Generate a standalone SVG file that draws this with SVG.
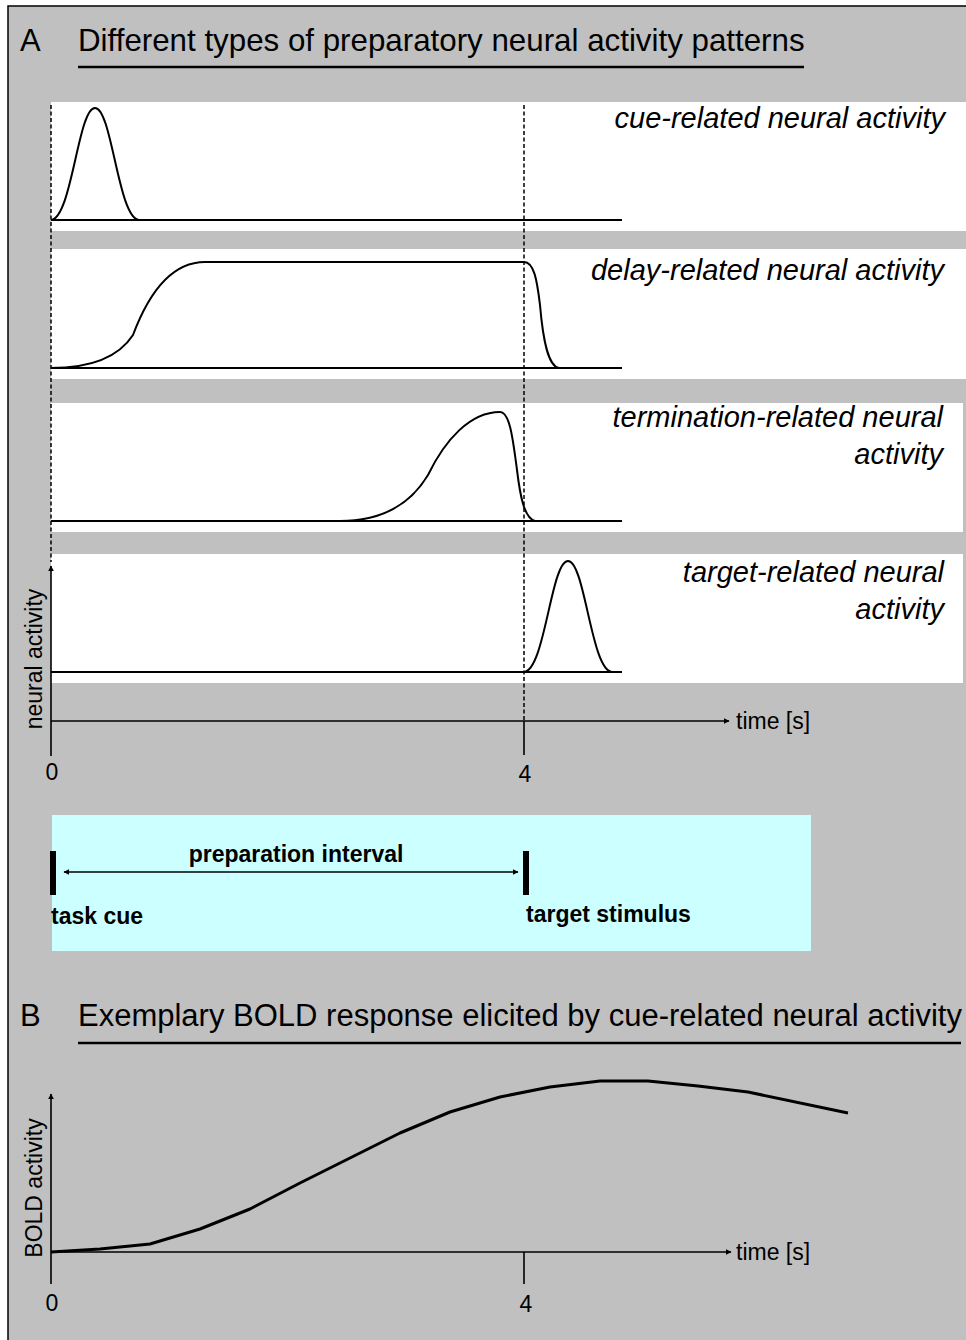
<svg xmlns="http://www.w3.org/2000/svg" width="966" height="1340" viewBox="0 0 966 1340">
<style>
text{font-family:"Liberation Sans",Arial,sans-serif;fill:#000}
.title{font-size:31px}
.lab{font-size:29px;font-style:italic;text-anchor:end}
.ax{font-size:23px}
.bold{font-size:23px;font-weight:bold}
.panel{fill:#fff}
.base{stroke:#000;stroke-width:2;fill:none}
.curve{stroke:#000;stroke-width:2;fill:none}
.axis{stroke:#000;stroke-width:1.6;fill:none}
.dash{stroke:#000;stroke-width:1.5;stroke-dasharray:4,2.5;fill:none}
</style>
<defs>
<marker id="ah" viewBox="0 0 10 10" refX="9" refY="5" markerWidth="6" markerHeight="6" orient="auto-start-reverse" markerUnits="userSpaceOnUse"><path d="M0,0L10,5L0,10z" fill="#000"/></marker>
</defs>
<rect x="8" y="6" width="980" height="1360" fill="#c0c0c0" stroke="#000" stroke-width="1.5"/>

<g id="titleA">
<text class="title" x="20" y="51">A</text>
<text class="title" x="78" y="51" style="font-size:31.3px">Different types of preparatory neural activity patterns</text>
<line x1="78" y1="67" x2="804" y2="67" stroke="#000" stroke-width="2.5"/>
</g>

<g id="panel-cue">
<rect class="panel" x="51" y="102" width="915" height="129"/>
<line class="base" x1="51" y1="220" x2="622" y2="220"/>
<path class="curve" d="M51,220 C72,218 78,108 95,108 C112,108 118,218 139,220"/>
<text class="lab" x="945" y="128">cue-related neural activity</text>
</g>

<g id="panel-delay">
<rect class="panel" x="51" y="249" width="915" height="130"/>
<line class="base" x1="51" y1="368" x2="622" y2="368"/>
<path class="curve" d="M51,368 C95,368 120,355 133,335 C148,295 170,262 205,262 L524,262 C534,262 537,280 540,305 C543,340 548,366 559,368"/>
<text class="lab" x="944" y="280">delay-related neural activity</text>
</g>

<g id="panel-termination">
<rect class="panel" x="51" y="403" width="912" height="129"/>
<line class="base" x1="51" y1="521" x2="622" y2="521"/>
<path class="curve" d="M340,521 C380,521 410,505 428,475 C445,440 470,412 500,412 C510,412 513,440 517,470 C520,495 524,518 535,521"/>
<text class="lab" x="943" y="427">termination-related neural</text>
<text class="lab" x="943" y="464">activity</text>
</g>

<g id="panel-target">
<rect class="panel" x="51" y="554" width="912" height="129"/>
<line class="base" x1="51" y1="672" x2="622" y2="672"/>
<path class="curve" d="M524,672 C545,670 551,561 568,561 C585,561 591,670 612,672"/>
<text class="lab" x="944" y="582">target-related neural</text>
<text class="lab" x="944" y="619">activity</text>
</g>

<g id="axes-A">
<line class="dash" x1="51" y1="105" x2="51" y2="562"/>
<line class="dash" x1="524" y1="105" x2="524" y2="721"/>
<line class="axis" x1="51" y1="756" x2="51" y2="566" marker-end="url(#ah)"/>
<line class="axis" x1="51" y1="721" x2="729" y2="721" marker-end="url(#ah)"/>
<line class="axis" x1="524" y1="721" x2="524" y2="755"/>
<text class="ax" x="736" y="729">time [s]</text>
<text class="ax" x="52" y="780" text-anchor="middle">0</text>
<text class="ax" x="525" y="782" text-anchor="middle">4</text>
<text class="ax" transform="translate(42,659) rotate(-90)" text-anchor="middle">neural activity</text>
</g>

<g id="interval-box">
<rect x="52" y="815" width="759" height="136" fill="#ccffff"/>
<rect x="50" y="851" width="6" height="44" fill="#000"/>
<rect x="523" y="851" width="6" height="44" fill="#000"/>
<text class="bold" x="296" y="862" text-anchor="middle">preparation interval</text>
<text class="bold" x="51" y="924">task cue</text>
<text class="bold" x="526" y="922">target stimulus</text>
</g>

<g id="connectors">
<line x1="64" y1="872" x2="518" y2="872" stroke="#000" stroke-width="1.5" marker-start="url(#ah)" marker-end="url(#ah)"/>
</g>

<g id="titleB">
<text class="title" x="20" y="1026">B</text>
<text class="title" x="78" y="1026">Exemplary BOLD response elicited by cue-related neural activity</text>
<line x1="78" y1="1043" x2="961" y2="1043" stroke="#000" stroke-width="2.5"/>
</g>

<g id="axes-B">
<line class="axis" x1="51" y1="1284" x2="51" y2="1094" marker-end="url(#ah)"/>
<line class="axis" x1="51" y1="1252" x2="731" y2="1252" marker-end="url(#ah)"/>
<line class="axis" x1="524" y1="1252" x2="524" y2="1284"/>
<text class="ax" x="736" y="1260">time [s]</text>
<text class="ax" x="52" y="1311" text-anchor="middle">0</text>
<text class="ax" x="526" y="1312" text-anchor="middle">4</text>
<text class="ax" transform="translate(42,1188) rotate(-90)" text-anchor="middle">BOLD activity</text>
<polyline points="51,1252 100,1249 150,1244 200,1229 250,1209 300,1183 350,1158 400,1133 450,1112 500,1097 550,1087 600,1081 648,1081 698,1086 748,1092 848,1113" fill="none" stroke="#000" stroke-width="3" stroke-linejoin="round"/>
</g>
</svg>
